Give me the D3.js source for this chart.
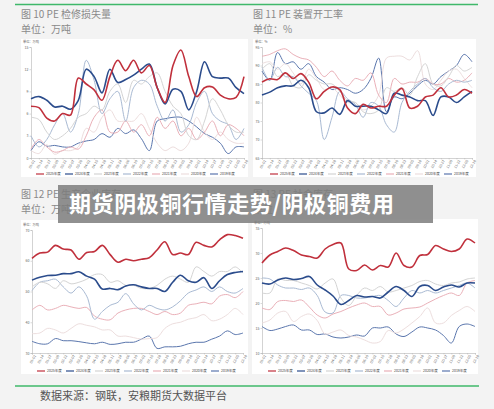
<!DOCTYPE html>
<html>
<head>
<meta charset="utf-8">
<script src="https://cdn.jsdelivr.net/npm/d3@7"></script>
<style>
  html, body { margin: 0; padding: 0; background: #f3f3f3; }
  svg { display: block; }
  text { font-family: "Noto Sans CJK SC", "Noto Sans", sans-serif; }
</style>
</head>
<body>
<div id="page"></div>
<script>
// categories shared by every chart
var years = ['2025年度', '2024年度', '2023年度', '2022年度', '2021年度', '2020年度', '2019年度']
var weeks = ['01-01', '01-14', '01-27', '02-09', '02-22', '03-07', '03-20', '04-02', '04-15', '04-28',
  '05-11', '05-24', '06-06', '06-19', '07-02', '07-15', '07-28', '08-10', '08-23', '09-05',
  '09-18', '10-01', '10-14', '10-27', '11-09', '11-22', '12-05', '12-18']

// 图10 PE 检修损失量 (万吨), one row per year in the order of `years`
var lossTicks = [0, 3, 6, 9, 12, 15]
var lossSeries = [
  [7.0, 6.8, 5.4, 5.0, 6.0, 5.8, 10.8, 10.0, 9.2, 7.8, 11.0, 13.2, 11.8, 13.2, 11.5, 12.5, 9.5, 7.5, 12.5, 14.6, 11.0, 8.3, 9.5, 9.6, 8.5, 8.0, 8.2, 11.0],
  [8.0, 8.3, 7.8, 6.9, 7.0, 6.6, 7.8, 12.0, 11.0, 8.8, 12.0, 10.2, 10.6, 11.2, 12.0, 12.7, 9.5, 7.3, 9.3, 9.0, 6.5, 9.0, 13.0, 11.0, 10.8, 10.8, 9.5, 8.7],
  [5.5, 5.2, 3.5, 2.5, 3.0, 4.0, 5.5, 6.0, 7.0, 6.5, 9.0, 10.0, 7.5, 10.5, 10.0, 11.0, 11.5, 9.0, 7.0, 6.0, 3.0, 2.5, 5.0, 8.0, 6.5, 4.5, 3.5, 3.5],
  [3.0, 1.5, 2.5, 4.5, 6.0, 3.5, 6.0, 13.2, 10.5, 6.0, 8.0, 9.0, 5.0, 9.5, 10.5, 10.0, 7.0, 5.0, 6.5, 3.5, 4.5, 7.5, 9.0, 6.0, 5.0, 4.5, 2.5, 4.0],
  [1.2, 2.5, 1.5, 0.8, 1.0, 1.5, 1.2, 3.0, 5.5, 6.5, 3.5, 3.5, 5.0, 3.5, 4.5, 3.0, 5.5, 4.0, 5.0, 3.0, 4.0, 2.5, 3.5, 5.0, 3.0, 4.5, 4.0, 3.0],
  [1.0, 0.6, 1.8, 0.5, 1.0, 1.0, 1.5, 4.0, 3.5, 5.5, 6.5, 5.0, 5.0, 5.0, 6.0, 4.0, 2.0, 1.0, 1.5, 1.0, 2.0, 5.5, 3.5, 2.5, 3.5, 2.5, 2.0, 2.0],
  [1.0, 2.2, 1.6, 1.7, 1.5, 1.5, 2.0, 2.3, 2.5, 3.3, 2.8, 4.0, 3.3, 3.8, 2.6, 1.0, 5.0, 5.3, 5.5, 5.5, 5.0, 4.2, 3.3, 2.8, 2.0, 0.6, 1.5, 1.5]
]

// 图11 PE 装置开工率 (%)
var rateTicks = [65, 70, 75, 80, 85, 90, 95]
var rateSeries = [
  [85.5, 86.4, 86.2, 88.0, 86.5, 87.8, 85.5, 81.0, 83.0, 84.2, 83.5, 78.5, 77.0, 79.5, 78.5, 79.0, 79.0, 82.0, 83.8, 78.5, 79.0, 81.5, 82.0, 84.0, 81.5, 82.0, 83.5, 82.5],
  [82.0, 82.8, 84.0, 84.5, 84.5, 86.0, 84.0, 77.5, 77.2, 78.5, 76.8, 80.5, 79.0, 79.0, 79.0, 78.0, 77.0, 82.5, 82.0, 81.5, 80.5, 80.5, 76.5, 81.5, 81.5, 80.0, 81.5, 83.0],
  [89.0, 90.5, 87.0, 88.0, 84.5, 84.0, 87.5, 86.0, 85.0, 85.0, 83.0, 80.5, 80.0, 77.5, 77.0, 78.0, 84.0, 83.0, 84.0, 82.0, 87.0, 90.5, 85.0, 84.5, 87.0, 90.0, 88.5, 89.5],
  [89.5, 86.0, 89.5, 87.0, 87.0, 84.5, 82.5, 80.5, 70.0, 76.0, 83.0, 81.0, 79.5, 76.0, 80.0, 79.0, 74.0, 72.0, 80.0, 83.0, 85.0, 86.5, 84.0, 83.0, 85.0, 86.0, 85.5, 86.0],
  [92.5, 93.0, 94.0, 94.5, 93.0, 92.0, 91.5, 89.5, 87.0, 88.5, 86.0, 84.5, 86.5, 86.0, 88.0, 82.0, 80.0, 86.5, 85.0, 85.5, 85.5, 86.5, 85.0, 85.0, 86.5, 85.5, 86.0, 88.0],
  [90.5, 91.0, 89.0, 90.5, 88.0, 85.0, 89.0, 86.5, 83.5, 84.0, 82.0, 80.0, 80.0, 78.0, 79.0, 82.0, 92.0, 92.5, 92.5, 91.5, 94.0, 85.0, 83.5, 86.0, 88.5, 89.0, 86.5, 84.0],
  [88.5, 86.0, 93.5, 90.5, 91.0, 89.0, 90.5, 87.0, 85.5, 83.5, 84.0, 83.5, 82.5, 83.5, 86.5, 92.0, 77.5, 81.5, 81.0, 82.5, 84.5, 86.0, 85.0, 87.0, 88.5, 90.0, 93.0, 91.0]
]

// 图12 PE 生产企业库存 (万吨)
var plantTicks = [30, 40, 50, 60, 70]
var plantSeries = [
  [60.8, 62.5, 62.8, 65.0, 63.8, 63.5, 60.5, 62.7, 63.0, 65.0, 62.0, 59.5, 60.5, 60.0, 60.5, 61.0, 63.5, 66.2, 62.0, 62.5, 62.0, 66.0, 65.0, 64.5, 66.8, 68.5, 68.2, 67.3],
  [53.7, 54.6, 55.2, 55.3, 55.8, 55.8, 56.4, 55.0, 54.0, 50.8, 51.0, 50.6, 51.8, 52.2, 51.5, 51.0, 51.0, 50.0, 53.0, 55.3, 53.5, 53.0, 54.5, 51.0, 53.5, 55.5, 56.2, 56.5],
  [51.5, 53.0, 52.5, 51.0, 53.5, 52.5, 53.0, 54.0, 55.5, 55.5, 53.0, 53.5, 52.0, 52.0, 51.0, 51.0, 52.0, 54.0, 55.0, 54.0, 53.0, 58.0, 56.5, 55.0, 56.5, 56.5, 58.0, 56.0],
  [50.3, 53.0, 53.5, 54.0, 51.5, 49.5, 51.5, 48.5, 41.0, 43.5, 45.5, 46.5, 49.3, 46.0, 44.0, 45.5, 44.5, 44.0, 45.0, 47.0, 49.5, 50.5, 51.5, 50.0, 51.5, 50.0, 49.5, 51.0],
  [44.0, 45.5, 44.0, 44.5, 45.5, 45.0, 44.5, 44.8, 42.0, 41.0, 40.8, 43.0, 44.0, 44.5, 44.5, 43.5, 42.5, 43.5, 42.5, 43.0, 45.5, 46.0, 46.5, 46.0, 48.5, 49.0, 48.0, 50.0],
  [36.3, 36.5, 38.0, 37.5, 36.5, 38.0, 39.5, 39.0, 38.5, 37.5, 37.5, 35.5, 35.5, 35.0, 34.5, 34.7, 35.0, 38.0, 39.5, 40.0, 41.0, 41.5, 42.5, 40.5, 41.0, 42.5, 44.5, 42.5],
  [33.8, 33.0, 33.0, 34.7, 34.0, 34.0, 33.7, 33.3, 33.0, 33.5, 32.8, 33.0, 33.5, 33.5, 34.5, 35.5, 31.5, 32.0, 32.0, 32.2, 33.0, 33.5, 33.5, 34.5, 35.5, 37.2, 36.0, 36.5]
]

// 图13 PE 社会库存 (万吨)
var socialTicks = [10, 15, 20, 25, 30, 35]
var socialSeries = [
  [28.0, 29.6, 30.3, 31.0, 30.5, 29.6, 29.3, 29.0, 30.8, 31.7, 32.0, 26.8, 26.5, 27.6, 26.6, 27.5, 27.2, 30.0, 27.5, 27.2, 29.5, 29.7, 31.5, 30.8, 30.3, 30.8, 32.8, 32.0],
  [24.0, 23.8, 24.6, 25.0, 24.7, 24.9, 25.3, 23.6, 22.6, 21.4, 19.7, 20.5, 21.5, 21.2, 21.3, 21.0, 22.2, 23.3, 22.5, 21.3, 23.3, 23.5, 22.5, 23.2, 23.6, 23.2, 24.0, 24.0],
  [22.0, 22.0, 24.8, 24.5, 24.5, 24.0, 23.5, 22.8, 24.0, 24.8, 21.0, 19.5, 21.5, 23.0, 22.5, 23.3, 22.2, 22.5, 23.0, 23.5, 24.3, 24.5, 23.8, 23.5, 24.0, 24.2, 24.8, 25.0],
  [25.0, 24.8, 23.6, 23.0, 23.0, 22.7, 23.0, 21.5, 18.2, 18.0, 21.5, 21.5, 21.0, 21.0, 21.3, 21.5, 20.5, 19.3, 21.0, 22.5, 22.0, 22.5, 22.0, 22.5, 23.0, 23.5, 24.0, 23.0],
  [19.0, 18.7, 20.3, 20.5, 20.3, 20.6, 19.2, 17.6, 17.0, 17.8, 18.3, 19.0, 19.6, 20.0, 19.3, 19.3, 17.6, 18.0, 18.8, 19.0, 19.2, 20.0, 20.8, 21.5, 22.0, 21.5, 24.0, 24.5],
  [16.0, 16.6, 18.0, 18.3, 16.3, 17.3, 17.8, 16.5, 13.8, 14.2, 14.6, 13.5, 13.2, 12.6, 12.0, 12.3, 14.5, 14.0, 14.8, 16.0, 17.3, 19.0, 16.0, 16.0, 17.5, 18.5, 19.3, 18.3],
  [15.3, 14.5, 14.8, 15.3, 15.6, 14.6, 14.6, 13.7, 13.8, 13.2, 13.0, 13.2, 13.6, 13.4, 15.0, 15.0, 15.2, 13.8, 13.3, 14.2, 15.2, 15.0, 14.6, 13.5, 12.0, 15.3, 15.8, 15.3]
]

var colors = ['#c0303c', '#2b4c8c', '#d4d4d4', '#a9bad3', '#eab0b8', '#eddede', '#5a76ad']
var widths = [1.6, 1.6, 1, 1, 1, 1, 1]

var W = 494
var H = 409

var svg = d3.select('#page').append('svg')
  .attr('width', W)
  .attr('height', H)
  .attr('viewBox', '0 0 ' + W + ' ' + H)

svg.append('rect').attr('width', W).attr('height', H).attr('fill', '#f3f3f3')

// green rules at top and bottom of the page
svg.append('line')
  .attr('x1', 15).attr('x2', 478).attr('y1', 4.5).attr('y2', 4.5)
  .attr('stroke', '#3fb86a').attr('stroke-width', 1.5)
svg.append('line')
  .attr('x1', 15).attr('x2', 479).attr('y1', 386).attr('y2', 386)
  .attr('stroke', '#3fb86a').attr('stroke-width', 1.5)

var panels = [
  { title: '图 10 PE 检修损失量', unit: '单位：万吨', tx: 21, ty: 18,
    box: [21, 39, 227, 138], plot: [31, 244, 47, 158], ticks: lossTicks, series: lossSeries, legX: 36, legY: 174 },
  { title: '图 11 PE 装置开工率', unit: '单位：%', tx: 253, ty: 18,
    box: [253, 39, 223, 138], plot: [262, 472, 47, 158], ticks: rateTicks, series: rateSeries, legX: 270, legY: 174 },
  { title: '图 12 PE 生产企业库存', unit: '单位：万吨', tx: 21, ty: 198,
    box: [21, 220, 227, 154], plot: [32, 243, 230, 353], ticks: plantTicks, series: plantSeries, legX: 37, legY: 371 },
  { title: '图 13 PE 社会库存', unit: '单位：万吨', tx: 253, ty: 198,
    box: [252, 219, 226, 155], plot: [262, 475, 228, 353], ticks: socialTicks, series: socialSeries, legX: 268, legY: 371 }
]

panels.forEach(function (p) {
  svg.append('text')
    .attr('x', p.tx).attr('y', p.ty)
    .attr('font-size', 10).attr('fill', '#8a8a8a')
    .text(p.title)
  svg.append('text')
    .attr('x', p.tx).attr('y', p.ty + 15)
    .attr('font-size', 10).attr('fill', '#8a8a8a')
    .text(p.unit)

  svg.append('rect')
    .attr('x', p.box[0]).attr('y', p.box[1])
    .attr('width', p.box[2]).attr('height', p.box[3])
    .attr('fill', '#ffffff')

  var g = svg.append('g')

  g.append('text')
    .attr('x', p.box[0] + 2).attr('y', p.plot[2] - 4)
    .attr('font-size', 3.2).attr('fill', '#666')
    .text(p.unit)

  var x = d3.scalePoint().domain(weeks).range([p.plot[0], p.plot[1]])
  var y = d3.scaleLinear()
    .domain([p.ticks[0], p.ticks[p.ticks.length - 1]])
    .range([p.plot[3], p.plot[2]])

  var yAxis = g.append('g')
    .attr('transform', 'translate(' + p.plot[0] + ',0)')
    .call(d3.axisLeft(y).tickValues(p.ticks).tickSize(1.5).tickPadding(1))
  yAxis.selectAll('text').attr('font-size', 3.5).attr('fill', '#666')

  var xAxis = g.append('g')
    .attr('transform', 'translate(0,' + p.plot[3] + ')')
    .call(d3.axisBottom(x).tickSize(1.5).tickPadding(1))
  xAxis.selectAll('text')
    .attr('font-size', 3.5).attr('fill', '#666')
    .attr('text-anchor', 'end')
    .attr('dx', '-0.2em').attr('dy', '0.6em')
    .attr('transform', 'rotate(-60)')

  g.selectAll('.domain').attr('stroke', '#b5b5b5').attr('stroke-width', 0.6)
  g.selectAll('.tick line').attr('stroke', '#b5b5b5').attr('stroke-width', 0.5)

  var line = d3.line()
    .x(function (d, i) { return x(weeks[i]) })
    .y(function (d) { return y(d) })
    .curve(d3.curveCatmullRom.alpha(0.5))

  // oldest year first so 2025 ends up on top
  for (var k = p.series.length - 1; k >= 0; k--) {
    g.append('path')
      .attr('d', line(p.series[k]))
      .attr('fill', 'none')
      .attr('stroke', colors[k])
      .attr('stroke-width', widths[k])
      .attr('stroke-linejoin', 'round')
  }

  var leg = g.selectAll('.leg')
    .data(years)
    .enter().append('g')
    .attr('transform', function (d, i) { return 'translate(' + (p.legX + i * 29) + ',' + p.legY + ')' })
  leg.append('line')
    .attr('x1', 0).attr('x2', 8)
    .attr('stroke', function (d, i) { return colors[i] })
    .attr('stroke-width', 1.2)
  leg.append('text')
    .attr('x', 10).attr('y', 1.2)
    .attr('font-size', 3.5).attr('fill', '#444')
    .text(function (d) { return d })
})

// banner laid over the page
svg.append('rect')
  .attr('x', 58).attr('y', 185).attr('width', 375).attr('height', 38)
  .attr('fill', 'rgba(125,125,125,0.85)')
svg.append('text')
  .attr('x', 69).attr('y', 212)
  .attr('font-size', 22).attr('font-weight', 700).attr('fill', '#ffffff')
  .attr('letter-spacing', 0.6)
  .text('期货阴极铜行情走势/阴极铜费用')

svg.append('text')
  .attr('x', 40).attr('y', 400)
  .attr('font-size', 11).attr('fill', '#555')
  .text('数据来源：钢联，安粮期货大数据平台')
</script>
</body>
</html>
